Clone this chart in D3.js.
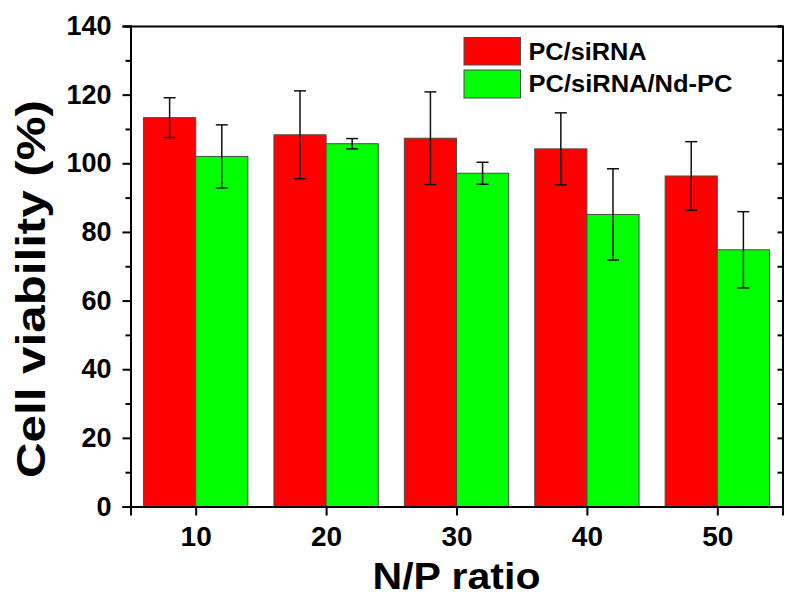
<!DOCTYPE html>
<html>
<head>
<meta charset="utf-8">
<script src="https://cdn.jsdelivr.net/npm/d3@7"></script>
<style>
  html, body { margin: 0; padding: 0; background: #fff; }
  svg { display: block; font-family: "Liberation Sans", Arial, sans-serif; }
</style>
</head>
<body>
<svg id="chart" width="787" height="596"></svg>
<script>
// N/P ratios and cell viability (%) for both formulations
const npRatios = [10, 20, 30, 40, 50];
const pcSiRNA = [113.3, 108.3, 107.3, 104.2, 96.3];
const pcSiRNAErr = [5.8, 12.8, 13.5, 10.5, 10.0];
const ndPc = [102.0, 105.7, 97.1, 85.1, 74.8];
const ndPcErr = [9.2, 1.5, 3.2, 13.3, 11.1];
const seriesNames = ["PC/siRNA", "PC/siRNA/Nd-PC"];
const yMajorTicks = [0, 20, 40, 60, 80, 100, 120, 140];
const yMinorTicks = [10, 30, 50, 70, 90, 110, 130];

const colors = ["#ff0000", "#00ff00"];
const barSpan = 4; // width of each bar in N/P units

const plotLeft = 130.5, plotRight = 782.5, plotTop = 26, plotBottom = 506.5;
const svg = d3.select("#chart");

const x = d3.scaleLinear().domain([5, 55]).range([plotLeft, plotRight]);
const y = d3.scaleLinear().domain([0, 140]).range([plotBottom, plotTop]);

const series = [
  { name: seriesNames[0], values: pcSiRNA, errs: pcSiRNAErr, offset: -barSpan, color: colors[0] },
  { name: seriesNames[1], values: ndPc, errs: ndPcErr, offset: 0, color: colors[1] }
];

// Bars
series.forEach(s => {
  svg.append("g").selectAll("rect")
    .data(npRatios.map((r, i) => ({ r, v: s.values[i] })))
    .join("rect")
    .attr("x", d => x(d.r + s.offset))
    .attr("width", d => x(d.r + s.offset + barSpan) - x(d.r + s.offset))
    .attr("y", d => y(d.v))
    .attr("height", d => y(0) - y(d.v))
    .attr("fill", s.color)
    .attr("stroke", "#4a4a4a")
    .attr("stroke-width", 1);
});

// Error bars
series.forEach(s => {
  const g = svg.append("g").attr("stroke", "#111").attr("stroke-width", 1.5).attr("fill", "none");
  npRatios.forEach((r, i) => {
    const cx = x(r + s.offset + barSpan / 2);
    const hi = y(s.values[i] + s.errs[i]);
    const lo = y(s.values[i] - s.errs[i]);
    g.append("line").attr("x1", cx).attr("x2", cx).attr("y1", hi).attr("y2", lo);
    g.append("line").attr("x1", cx - 6).attr("x2", cx + 6).attr("y1", hi).attr("y2", hi);
    g.append("line").attr("x1", cx - 6).attr("x2", cx + 6).attr("y1", lo).attr("y2", lo);
  });
});

// Axes
const yLeft = svg.append("g").attr("transform", `translate(${plotLeft},0)`)
  .call(d3.axisLeft(y).tickValues(yMajorTicks).tickSize(8).tickPadding(11).tickFormat(d3.format("d")));
svg.append("g").attr("transform", `translate(${plotLeft},0)`)
  .call(d3.axisLeft(y).tickValues(yMinorTicks).tickSize(5).tickFormat(""));

svg.append("g").attr("transform", `translate(${plotRight},0)`)
  .call(d3.axisLeft(y).tickValues(yMajorTicks.concat(yMinorTicks)).tickSize(5).tickFormat(""));

const xBottom = svg.append("g").attr("transform", `translate(0,${plotBottom})`)
  .call(d3.axisBottom(x).tickValues(npRatios).tickSize(9).tickPadding(11).tickFormat(d3.format("d")));

svg.append("g").attr("transform", `translate(0,${plotTop})`)
  .call(d3.axisTop(x).tickValues([]).tickSize(0));

svg.selectAll(".domain").attr("stroke", "#000").attr("stroke-width", 2);
svg.selectAll(".tick line").attr("stroke", "#000").attr("stroke-width", 2);
yLeft.selectAll(".tick text").style("font", "bold 27px 'Liberation Sans', Arial, sans-serif").attr("fill", "#000");
xBottom.selectAll(".tick text").style("font", "bold 28px 'Liberation Sans', Arial, sans-serif").attr("fill", "#000");

// Axis titles
svg.append("text")
  .attr("x", (plotLeft + plotRight) / 2).attr("y", 589)
  .attr("text-anchor", "middle")
  .attr("textLength", 168).attr("lengthAdjust", "spacingAndGlyphs")
  .style("font", "bold 36px 'Liberation Sans', Arial, sans-serif")
  .text("N/P ratio");

svg.append("text")
  .attr("transform", `translate(45,${(100 + 478) / 2}) rotate(-90)`)
  .attr("text-anchor", "middle")
  .attr("textLength", 378).attr("lengthAdjust", "spacingAndGlyphs")
  .style("font", "bold 41px 'Liberation Sans', Arial, sans-serif")
  .text("Cell viability (%)");

// Legend
const legend = svg.append("g");
const legendRows = [
  { name: seriesNames[0], color: colors[0], y0: 37.5, y1: 65, base: 60, len: 118 },
  { name: seriesNames[1], color: colors[1], y0: 70, y1: 98, base: 91.7, len: 204 }
];
legendRows.forEach(d => {
  legend.append("rect")
    .attr("x", 464).attr("y", d.y0).attr("width", 56.5).attr("height", d.y1 - d.y0)
    .attr("fill", d.color).attr("stroke", "#4a4a4a").attr("stroke-width", 1);
  legend.append("text")
    .attr("x", 528.5).attr("y", d.base)
    .attr("textLength", d.len).attr("lengthAdjust", "spacingAndGlyphs")
    .style("font", "bold 24px 'Liberation Sans', Arial, sans-serif")
    .text(d.name);
});
</script>
</body>
</html>
